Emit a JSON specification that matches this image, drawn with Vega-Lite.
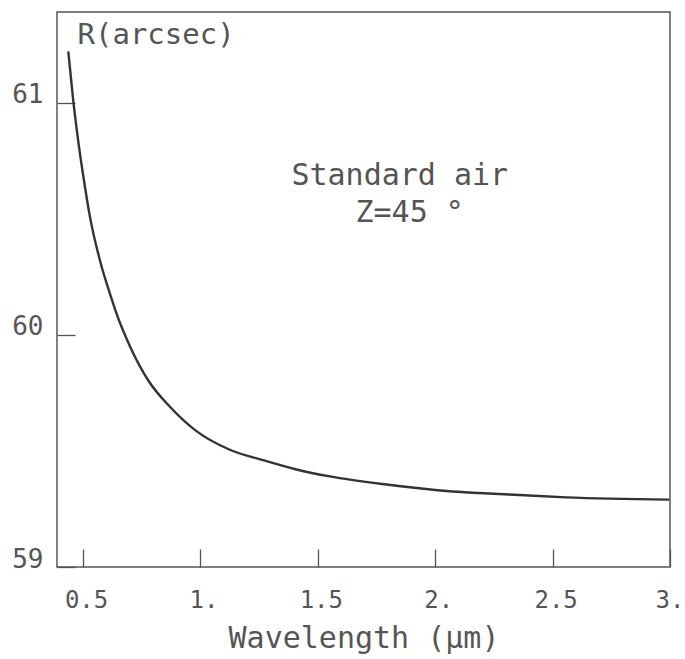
{
  "$schema": "https://vega.github.io/schema/vega-lite/v6.json",
  "width": 613,
  "height": 555,
  "autosize": {"type": "none"},
  "padding": {"left": 57, "top": 12, "right": 15, "bottom": 92},
  "background": "white",
  "config": {
    "view": {"stroke": "#555555", "strokeWidth": 1.5},
    "font": "DejaVu Sans Mono",
    "axis": {"grid": false, "domain": false, "tickColor": "#555555", "tickWidth": 1.3, "labelColor": "#555555", "titleColor": "#555555", "labelFont": "DejaVu Sans Mono", "titleFont": "DejaVu Sans Mono", "titleFontWeight": "normal"}
  },
  "datasets": {
    "curve": [
      {"wavelength": 0.437, "R": 61.22},
      {"wavelength": 0.458, "R": 61.01},
      {"wavelength": 0.48, "R": 60.83},
      {"wavelength": 0.50, "R": 60.69},
      {"wavelength": 0.529, "R": 60.51},
      {"wavelength": 0.572, "R": 60.32},
      {"wavelength": 0.62, "R": 60.16},
      {"wavelength": 0.643, "R": 60.09},
      {"wavelength": 0.70, "R": 59.95},
      {"wavelength": 0.78, "R": 59.80},
      {"wavelength": 0.87, "R": 59.69},
      {"wavelength": 0.983, "R": 59.585},
      {"wavelength": 1.125, "R": 59.505},
      {"wavelength": 1.267, "R": 59.46},
      {"wavelength": 1.409, "R": 59.42},
      {"wavelength": 1.551, "R": 59.39},
      {"wavelength": 1.792, "R": 59.355},
      {"wavelength": 2.075, "R": 59.325},
      {"wavelength": 2.359, "R": 59.31},
      {"wavelength": 2.558, "R": 59.30},
      {"wavelength": 2.997, "R": 59.29}
    ],
    "notes": [
      {"wavelength": 1.849, "R": 60.644, "label": "Standard air"},
      {"wavelength": 1.891, "R": 60.486, "label": "Z=45 °"}
    ]
  },
  "layer": [
    {
      "data": {"name": "curve"},
      "mark": {"type": "line", "color": "#333333", "strokeWidth": 2.4, "interpolate": "monotone"},
      "encoding": {
        "x": {
          "field": "wavelength", "type": "quantitative",
          "scale": {"domain": [0.389, 3.0], "nice": false, "zero": false},
          "axis": {
            "title": "Wavelength (μm)",
            "values": [0.5, 1, 1.5, 2, 2.5, 3],
            "labelExpr": "datum.value % 1 == 0 ? datum.value + '.' : format(datum.value, '.1f')",
            "tickSize": -18,
            "labelPadding": 58,
            "labelBaseline": "alphabetic",
            "labelAlign": {"condition": {"test": "datum.value == 3", "value": "right"}, "value": "center"},
            "labelOffset": {"condition": {"test": "datum.value == 3", "value": 14}, "value": 3},
            "labelFontSize": 24,
            "labelFlush": false,
            "titleFontSize": 30,
            "titleY": 80,
            "titleBaseline": "alphabetic"
          }
        },
        "y": {
          "field": "R", "type": "quantitative",
          "scale": {"domain": [59, 61.39], "nice": false, "zero": false},
          "axis": {
            "title": "R(arcsec)",
            "values": [59, 60, 61],
            "format": "d",
            "tickSize": -18,
            "labelPadding": 32,
            "labelBaseline": "alphabetic",
            "labelFontSize": 26,
            "labelFlush": false,
            "titleFontSize": 29,
            "titleAngle": 0,
            "titleAlign": "left",
            "titleBaseline": "alphabetic",
            "titleX": 20,
            "titleY": 31
          }
        }
      }
    },
    {
      "data": {"name": "notes"},
      "mark": {"type": "text", "font": "DejaVu Sans Mono", "fontSize": 30, "color": "#555555", "align": "center", "baseline": "alphabetic"},
      "encoding": {
        "x": {"field": "wavelength", "type": "quantitative"},
        "y": {"field": "R", "type": "quantitative"},
        "text": {"field": "label"}
      }
    }
  ]
}
